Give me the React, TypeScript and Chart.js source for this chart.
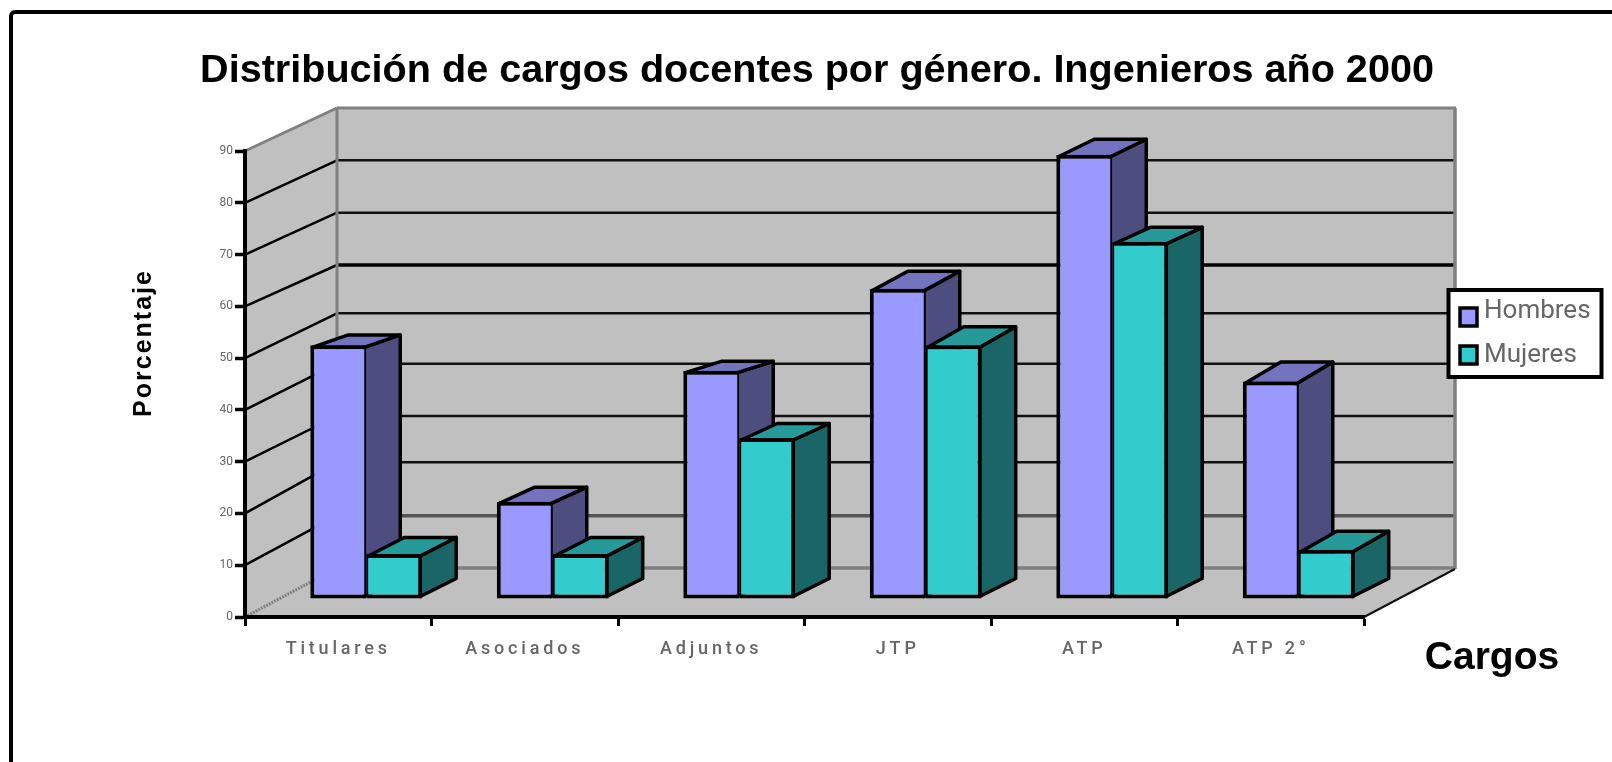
import React, { useEffect, useRef } from "react";
import { Chart, registerables } from "chart.js";

Chart.register(...registerables);

const categories = ["Titulares", "Asociados", "Adjuntos", "JTP", "ATP", "ATP 2°"];
const hombres = [49.0, 18.8, 44.1, 59.9, 85.8, 42.0];
const mujeres = [8.7, 8.7, 31.1, 49.0, 69.0, 9.5];
const yTicks = [0, 10, 20, 30, 40, 50, 60, 70, 80, 90];
const backGridWidths = [3.5, 3.5, 2.5, 2.5, 2.5, 2.5, 3.5, 2.5, 2.5, 0];
const backGridColors = ["#808080", "#555555", "#111111", "#111111", "#111111", "#111111", "#000000", "#111111", "#111111", "#808080"];
const backGridNudge = [0, -1, -3, 2, 1, 2, 5, 4, 3, 2];
const hombresDepth = [12, 16, 11, 19, 17, 21];
const mujeresDepth = [18, 18, 16, 20, 16, 20];
const titleText = "Distribución de cargos docentes por género. Ingenieros año 2000";
const yTitle = "Porcentaje";
const xTitle = "Cargos";

const WALL = "#C0C0C0";
const EDGE = "#808080";
const DEPTH_X = 92;
const BAR_DX = 36;
const BAR_DY = 18;
const SHIFT_X = 28;
const SHIFT_Y = 18;
const TXT = "#666666";

const shade = [
  { top: "#7373BF", side: "#4D4D80", depth: hombresDepth },
  { top: "#269999", side: "#1A6666", depth: mujeresDepth },
];

function poly(ctx: any, pts: number[][], fill?: string, stroke?: string, lw = 1) {
  ctx.beginPath();
  pts.forEach((p, i) => (i ? ctx.lineTo(p[0], p[1]) : ctx.moveTo(p[0], p[1])));
  ctx.closePath();
  if (fill) {
    ctx.fillStyle = fill;
    ctx.fill();
  }
  if (stroke) {
    ctx.strokeStyle = stroke;
    ctx.lineWidth = lw;
    ctx.lineJoin = "round";
    ctx.stroke();
  }
}

function seg(ctx: any, x0: number, y0: number, x1: number, y1: number, c: string, lw: number) {
  ctx.beginPath();
  ctx.moveTo(x0, y0);
  ctx.lineTo(x1, y1);
  ctx.strokeStyle = c;
  ctx.lineWidth = lw;
  ctx.stroke();
}

const wallsPlugin = {
  id: "walls",
  afterLayout(chart: any) {
    // the title is centred over the whole picture, not over the plot
    const t = chart.titleBlock;
    if (t) {
      t.left = 22;
      t.right = 1612;
    }
  },
  beforeDraw(chart: any) {
    const { ctx, chartArea: a, scales } = chart;
    const y = scales.y;
    const yBack = (v: number) => y.getPixelForValue(v) - 49 + (4 * v) / 90 + backGridNudge[yTicks.indexOf(v)];
    const bx0 = a.left + DEPTH_X;
    const bx1 = a.right + DEPTH_X - 1;
    ctx.save();
    ctx.strokeStyle = "#000";
    ctx.lineWidth = 4;
    ctx.beginPath();
    ctx.roundRect(11, 12, 1640, 800, 4);
    ctx.stroke();
    const y0 = y.getPixelForValue(0);
    const y90 = y.getPixelForValue(90);
    poly(ctx, [[a.left, y90], [bx0, yBack(90)], [bx0, yBack(0)], [a.left, y0]], WALL);
    poly(ctx, [[bx0, yBack(90)], [bx1, yBack(90)], [bx1, yBack(0)], [bx0, yBack(0)]], WALL);
    poly(ctx, [[a.left, y0], [bx0, yBack(0)], [bx1, yBack(0)], [a.right, y0]], WALL);
    yTicks.forEach((v, i) => {
      const yf = y.getPixelForValue(v);
      const yb = yBack(v);
      if (v > 0 && v < 90) {
        seg(ctx, a.left, yf, bx0, yb, "#000", 2.5);
      } else if (v === 0) {
        ctx.save();
        ctx.setLineDash([2, 1]);
        seg(ctx, a.left, yf, bx0, yb, EDGE, 3);
        ctx.restore();
      }
      if (backGridWidths[i] > 0) seg(ctx, bx0, yb, bx1, yb, backGridColors[i], backGridWidths[i]);
    });
    seg(ctx, a.left, y90, bx0, yBack(90), EDGE, 3);
    seg(ctx, bx0, yBack(90), bx1 + 1, yBack(90), EDGE, 3);
    seg(ctx, bx0, yBack(90), bx0, yBack(0), EDGE, 3);
    seg(ctx, bx1, yBack(90), bx1, yBack(0) + 1, EDGE, 3.5);
    seg(ctx, a.right, y0, bx1, yBack(0) + 1, "#111", 2);
    ctx.restore();

    // letter-spaced category labels, kept on the library's own tick drawing
    const sx: any = scales.x;
    if (!sx.__spaced) {
      sx.__spaced = true;
      const orig = sx.drawLabels;
      sx.drawLabels = function (area: any) {
        ctx.save();
        ctx.letterSpacing = "3.8px";
        orig.call(sx, area);
        ctx.restore();
      };
    }
  },
  beforeDatasetsDraw(chart: any) {
    const { ctx } = chart;
    ctx.save();
    ctx.translate(SHIFT_X, -SHIFT_Y);
    // depth faces: Hombres first, then Mujeres over them; front faces follow natively
    [0, 1].forEach((index) => {
      const s = shade[index];
      chart.getDatasetMeta(index).data.forEach((bar: any, n: number) => {
        const p = bar.getProps(["x", "y", "base", "width"], true);
        const r = p.x + p.width / 2;
        const l = p.x - p.width / 2;
        const t = p.y;
        const b = p.base;
        const i = 2;
        const dy = s.depth[n] * 1.028;
        poly(ctx, [[r - i, t + i], [r - i + BAR_DX, t + i - dy], [r - i + BAR_DX, b - i - BAR_DY], [r - i, b - i]], s.side, "#000", 3.5);
        poly(ctx, [[l + i, t + i], [l + i + BAR_DX, t + i - dy], [r - i + BAR_DX, t + i - dy], [r - i, t + i]], s.top, "#000", 3.5);
      });
    });
  },
  afterDatasetsDraw(chart: any) {
    chart.ctx.restore();
  },
  afterDraw(chart: any) {
    const { ctx } = chart;
    ctx.save();
    ctx.textBaseline = "middle";
    ctx.textAlign = "center";
    ctx.fillStyle = "#000";
    ctx.font = "bold 39px 'Liberation Sans'";
    ctx.fillText(xTitle, 1492, 658);
    ctx.save();
    ctx.translate(144, 343);
    ctx.rotate(-Math.PI / 2);
    ctx.letterSpacing = "2px";
    ctx.font = "bold 25px 'Liberation Sans'";
    ctx.fillText(yTitle, 0, 0);
    ctx.restore();
    ctx.fillStyle = "#fff";
    ctx.strokeStyle = "#000";
    ctx.lineWidth = 4;
    ctx.fillRect(1448.5, 290, 153, 87);
    ctx.strokeRect(1448.5, 290, 153, 87);
    ctx.textAlign = "left";
    ctx.font = "26px Roboto";
    chart.data.datasets.forEach((d: any, i: number) => {
      const top = i === 0 ? 308 : 346;
      ctx.fillStyle = d.backgroundColor;
      ctx.strokeStyle = "#000";
      ctx.lineWidth = 3.5;
      ctx.fillRect(1460, top, 17, 18);
      ctx.strokeRect(1460, top, 17, 18);
      ctx.fillStyle = TXT;
      ctx.fillText(d.label, 1484, i === 0 ? 311 : 355);
    });
    ctx.restore();
  },
};

export default function App() {
  const ref = useRef<HTMLCanvasElement>(null);
  useEffect(() => {
    const chart = new Chart(ref.current as HTMLCanvasElement, {
      type: "bar",
      plugins: [wallsPlugin],
      data: {
        labels: categories,
        datasets: [
          {
            label: "Hombres",
            data: hombres,
            backgroundColor: "#9999FF",
            borderColor: "#000",
            borderWidth: { left: 4, top: 4, bottom: 4, right: 2 },
            borderSkipped: false,
            clip: false,
          },
          {
            label: "Mujeres",
            data: mujeres,
            backgroundColor: "#33CCCC",
            borderColor: "#000",
            borderWidth: { left: 2, top: 4, bottom: 4, right: 4 },
            borderSkipped: false,
            clip: false,
          },
        ],
      } as any,
      options: {
        animation: false,
        responsive: false,
        layout: { padding: { left: 22, right: 248, top: 0, bottom: 0 } },
        plugins: {
          legend: { display: false },
          tooltip: { enabled: false },
          title: {
            display: true,
            text: titleText,
            color: "#000",
            font: { family: "'Liberation Sans'", size: 39.6, weight: "bold", lineHeight: 1 },
            padding: { top: 51, bottom: 60.4 },
            fullSize: true,
          },
        },
        datasets: { bar: { categoryPercentage: 0.6, barPercentage: 1 } },
        scales: {
          x: {
            grid: { drawOnChartArea: false, drawTicks: true, tickLength: 9, tickWidth: 3, tickColor: "#000" },
            border: { display: true, color: "#000", width: 4 },
            ticks: {
              color: TXT,
              padding: 13,
              maxRotation: 0,
              autoSkip: false,
              font: { family: "Roboto", size: 18, weight: "500" },
            },
            afterFit(s: any) {
              s.height = 762 - 617;
            },
          },
          y: {
            min: 0,
            max: 90,
            afterBuildTicks(s: any) {
              s.ticks = yTicks.map((value) => ({ value }));
            },
            grid: { drawOnChartArea: false, drawTicks: true, tickLength: 10, tickWidth: 3.5, tickColor: "#000" },
            border: { display: true, color: "#000", width: 4 },
            ticks: {
              color: TXT,
              padding: 2,
              font: { family: "Roboto", size: 12 },
            },
            afterFit(s: any) {
              s.width = 245 - 22;
            },
          },
        },
      } as any,
    });
    return () => chart.destroy();
  }, []);
  return (
    <div style={{ position: "fixed", left: 0, top: 0, width: 1612, height: 762, background: "#fff" }}>
      <canvas ref={ref} width={1612} height={762} style={{ display: "block", width: 1612, height: 762, filter: "blur(0.7px)" }} />
    </div>
  );
}
